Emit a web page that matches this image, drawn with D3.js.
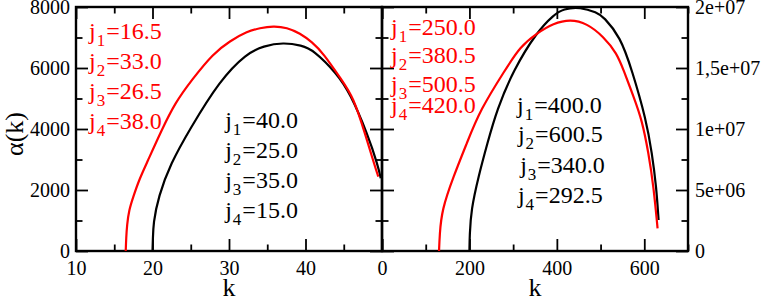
<!DOCTYPE html>
<html>
<head>
<meta charset="utf-8">
<script src="https://cdn.jsdelivr.net/npm/d3@7"></script>
<style>
  body { margin: 0; background: #fff; }
  svg { display: block; font-family: "Liberation Serif", "Times New Roman", serif; }
</style>
</head>
<body>
<svg id="svg" width="763" height="300"></svg>
<script>
// ---- data ----
// left panel (small spins)
const kLeftRed = [16.5, 16.56, 16.67, 16.93, 17.49, 18.24, 19.24, 21.2, 22.94, 25.12, 27.95, 30.13, 32.31, 34.05, 35.79, 37.58, 39.28, 40.85, 42.33, 44.73, 46.25, 47.78, 49.08, 49.52];
const aLeftRed = [0, 426, 853, 1344, 1780, 2328, 2876, 3968, 4853, 5607, 6483, 6886, 7191, 7312, 7378, 7329, 7138, 6853, 6483, 5607, 5050, 3859, 2764, 2436];
const kLeftBlack = [20, 20.05, 20.1, 20.76, 22.38, 24.81, 28.82, 32.31, 34.5, 37.1, 39.5, 41.02, 44.08, 45.82, 48.08, 49.52, 49.83];
const aLeftBlack = [0, 361, 908, 1780, 2876, 3968, 5607, 6483, 6720, 6840, 6740, 6591, 5827, 5171, 3859, 2764, 2384];

// right panel (large spins)
const kRightRed = [130.5, 131.9, 136.7, 163.3, 194, 224.4, 281.7, 316, 354.2, 392.3, 430.5, 468.7, 506.8, 537.4, 552.5, 575.5, 594.7, 609.8, 621.3, 630.4];
const aRightRed = [0, 1.31e6, 3.36e6, 6.09e6, 8.83e6, 1.156e7, 1.484e7, 1.675e7, 1.784e7, 1.866e7, 1.899e7, 1.866e7, 1.757e7, 1.62e7, 1.484e7, 1.265e7, 1.074e7, 8.01e6, 5.27e6, 1.86e6];
const kRightBlack = [200, 200.6, 203.8, 220.5, 241.1, 262.6, 300.7, 354.2, 392.3, 415.2, 453.4, 491.6, 506.8, 545, 571.8, 604.5, 617.6, 627.5, 632.7];
const aRightBlack = [0, 1.31e6, 3.36e6, 6.09e6, 8.83e6, 1.156e7, 1.484e7, 1.795e7, 1.934e7, 1.985e7, 2.0e7, 1.955e7, 1.92e7, 1.757e7, 1.484e7, 1.074e7, 8.01e6, 5.27e6, 2.54e6];

// ticks
const xLeftMajor = [10, 20, 30, 40, 50];
const xLeftLabels = ["10", "20", "30", "40", ""];
const xLeftMinor = [15, 25, 35, 45];
const yLeftMajor = [0, 2000, 4000, 6000, 8000];
const yLeftLabels = ["0", "2000", "4000", "6000", "8000"];
const yLeftMinor = [1000, 3000, 5000, 7000];

const xRightMajor = [0, 200, 400, 600];
const xRightLabels = ["0", "200", "400", "600"];
const xRightMinor = [100, 300, 500, 700];
const yRightMajor = [0, 5e6, 1e7, 1.5e7, 2e7];
const yRightLabels = ["0", "5e+06", "1e+07", "1,5e+07", "2e+07"];
const yRightMinor = [2.5e6, 7.5e6, 1.25e7, 1.75e7];

// spin labels
const jLeftRed = ["16.5", "33.0", "26.5", "38.0"];
const jLeftBlack = ["40.0", "25.0", "35.0", "15.0"];
const jRightRed = ["250.0", "380.5", "500.5", "420.0"];
const jRightBlack = ["400.0", "600.5", "340.0", "292.5"];

// ---- layout ----
const plotTop = 7, plotBottom = 251;
const svg = d3.select("#svg");

const xLeft = d3.scaleLinear().domain([10, 50]).range([76, 382]);
const yLeft = d3.scaleLinear().domain([0, 8000]).range([plotBottom, plotTop]);
const xRight = d3.scaleLinear().domain([0, 700]).range([382, 688]);
const yRight = d3.scaleLinear().domain([0, 2e7]).range([plotBottom, plotTop]);

function drawAxes(x, y, o) {
  const g = svg.append("g").attr("class", "axes");
  const [x0, x1] = x.range();
  const sides = [
    { make: d3.axisBottom, s: x, t: `translate(0,${plotBottom})`, major: o.xMajor, minor: o.xMinor, labels: o.bottomLabels, pad: 10 },
    { make: d3.axisTop, s: x, t: `translate(0,${plotTop})`, major: o.xMajor, minor: o.xMinor, labels: null, pad: 0 },
    { make: d3.axisLeft, s: y, t: `translate(${x0},0)`, major: o.yMajor, minor: o.yMinor, labels: o.leftLabels, pad: 6 },
    { make: d3.axisRight, s: y, t: `translate(${x1},0)`, major: o.yMajor, minor: o.yMinor, labels: o.rightLabels, pad: 7 }
  ];
  sides.forEach((sd) => {
    const major = g.append("g").attr("transform", sd.t)
      .call(sd.make(sd.s).tickValues(sd.major)
        .tickFormat((d, i) => (sd.labels ? sd.labels[i] : ""))
        .tickSizeInner(-12).tickSizeOuter(0).tickPadding(sd.pad));
    const minor = g.append("g").attr("transform", sd.t)
      .call(sd.make(sd.s).tickValues(sd.minor).tickFormat("")
        .tickSizeInner(-6.5).tickSizeOuter(0));
    [major, minor].forEach((a) => {
      a.attr("font-family", null);
      a.select(".domain").remove();
      a.selectAll(".tick line").attr("stroke", "#000").attr("stroke-width", 1.8);
      a.selectAll("text").attr("fill", "#000").style("font-size", "20px")
        .style("font-family", "'Liberation Serif', 'Times New Roman', serif");
    });
  });
  // frame
  g.append("rect")
    .attr("x", x0).attr("y", plotTop)
    .attr("width", x1 - x0).attr("height", plotBottom - plotTop)
    .attr("fill", "none").attr("stroke", "#000").attr("stroke-width", 2.4);
}

function drawCurve(x, y, ks, vals, color) {
  // basis spline: smooths the small errors of the hand-read points
  const line = d3.line()
    .x((d) => x(d[0]))
    .y((d) => y(d[1]))
    .curve(d3.curveBasis);
  svg.append("path")
    .datum(d3.zip(ks, vals))
    .attr("fill", "none")
    .attr("stroke", color)
    .attr("stroke-width", 2.2)
    .attr("stroke-linejoin", "round")
    .attr("d", line);
}

// spin label block: one entry per line, anchor given in data units
function drawLabels(x, y, values, anchors, color) {
  values.forEach((v, i) => {
    const t = svg.append("text")
      .attr("x", x(anchors[i][0]))
      .attr("y", y(anchors[i][1]))
      .attr("fill", color)
      .style("font-size", "24px");
    t.append("tspan").text("j");
    t.append("tspan").attr("dx", 1).attr("dy", 7).style("font-size", "17px").text(i + 1);
    t.append("tspan").attr("dx", 1).attr("dy", -7).text("=" + v);
  });
}

drawAxes(xLeft, yLeft, {
  xMajor: xLeftMajor, xMinor: xLeftMinor, bottomLabels: xLeftLabels,
  yMajor: yLeftMajor, yMinor: yLeftMinor, leftLabels: yLeftLabels, rightLabels: null
});
drawAxes(xRight, yRight, {
  xMajor: xRightMajor, xMinor: xRightMinor, bottomLabels: xRightLabels,
  yMajor: yRightMajor, yMinor: yRightMinor, leftLabels: null, rightLabels: yRightLabels
});

drawCurve(xLeft, yLeft, kLeftBlack, aLeftBlack, "#000");
drawCurve(xLeft, yLeft, kLeftRed, aLeftRed, "#ff0000");
drawCurve(xRight, yRight, kRightBlack, aRightBlack, "#000");
drawCurve(xRight, yRight, kRightRed, aRightRed, "#ff0000");

drawLabels(xLeft, yLeft, jLeftRed, [[11.7, 6951], [11.7, 5967], [11.7, 4984], [11.7, 4000]], "#ff0000");
drawLabels(xLeft, yLeft, jLeftBlack, [[29.5, 4033], [29.5, 3049], [29.5, 2066], [29.5, 1082]], "#000");
drawLabels(xRight, yRight, jRightRed, [[20.6, 1.77e7], [20.6, 1.541e7], [20.6, 1.303e7], [20.6, 1.131e7]], "#ff0000");
drawLabels(xRight, yRight, jRightBlack, [[309, 1.131e7], [311, 8.93e6], [316, 6.39e6], [311, 3.93e6]], "#000");

// axis titles
svg.append("text")
  .attr("transform", "translate(14,134) rotate(-90)")
  .attr("text-anchor", "middle")
  .attr("dy", "0.35em")
  .style("font-size", "26px")
  .text("α(k)");
[xLeft, xRight].forEach((x) => {
  const [a, b] = x.range();
  svg.append("text")
    .attr("x", (a + b) / 2)
    .attr("y", 296)
    .attr("text-anchor", "middle")
    .style("font-size", "26px")
    .text("k");
});
</script>
</body>
</html>
